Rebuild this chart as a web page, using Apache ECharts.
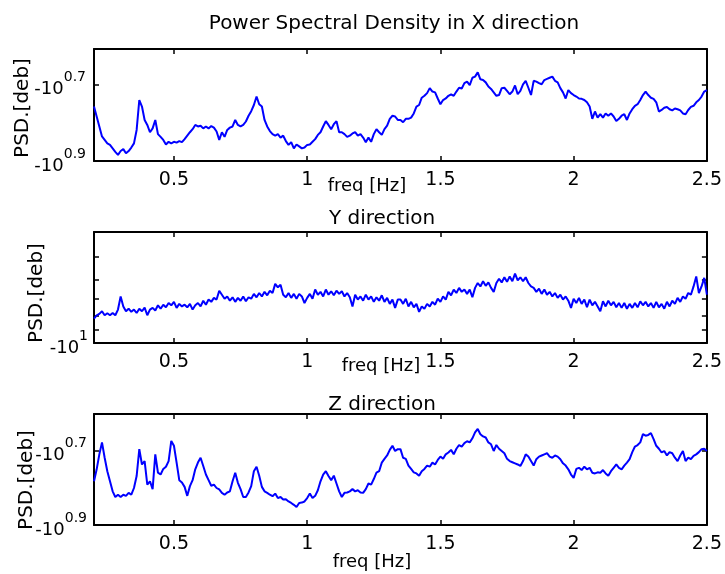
<!DOCTYPE html>
<html>
<head>
<meta charset="utf-8">
<script src="https://cdn.jsdelivr.net/npm/echarts@6/dist/echarts.min.js"></script>
<style>
  html, body { margin: 0; padding: 0; background: #fff; }
  #chart { width: 725px; height: 574px; }
</style>
</head>
<body>
<div id="chart"></div>
<script>
// Frequency grid of the spectra: 0.20 .. 2.50 Hz, 0.01 Hz spacing
const freqStart = 0.2;
const freqStep = 0.01;
const freqCount = 231;

// log10(|PSD|) for each direction (PSD values are negative: PSD = -10^v)
const logPsdX = [
  0.758,0.784,0.810,0.836,0.845,0.854,0.858,0.867,0.876,0.884,
  0.874,0.869,0.880,0.874,0.865,0.854,0.819,0.741,0.758,0.793,
  0.806,0.825,0.815,0.793,0.830,0.837,0.845,0.857,0.850,0.854,
  0.850,0.852,0.848,0.851,0.843,0.834,0.825,0.817,0.806,0.810,
  0.808,0.815,0.810,0.815,0.809,0.813,0.823,0.845,0.825,0.837,
  0.819,0.813,0.810,0.793,0.806,0.810,0.806,0.797,0.782,0.770,
  0.754,0.732,0.752,0.758,0.793,0.810,0.822,0.830,0.834,0.830,
  0.839,0.834,0.848,0.858,0.851,0.867,0.857,0.862,0.867,0.865,
  0.858,0.857,0.850,0.843,0.832,0.825,0.810,0.796,0.806,0.817,
  0.804,0.796,0.825,0.825,0.830,0.837,0.834,0.828,0.825,0.834,
  0.830,0.839,0.851,0.839,0.850,0.830,0.817,0.825,0.832,0.817,
  0.808,0.790,0.782,0.784,0.793,0.793,0.799,0.790,0.790,0.787,
  0.776,0.758,0.754,0.735,0.730,0.723,0.710,0.719,0.721,0.737,
  0.752,0.741,0.737,0.730,0.726,0.730,0.719,0.709,0.711,0.697,
  0.693,0.702,0.683,0.680,0.669,0.687,0.689,0.695,0.706,0.712,
  0.721,0.730,0.728,0.710,0.709,0.717,0.726,0.719,0.703,0.726,
  0.717,0.700,0.691,0.709,0.728,0.691,0.693,0.697,0.700,0.689,
  0.686,0.683,0.680,0.691,0.695,0.710,0.721,0.737,0.715,0.723,
  0.728,0.732,0.737,0.738,0.741,0.747,0.758,0.790,0.771,0.787,
  0.778,0.787,0.776,0.782,0.776,0.784,0.796,0.790,0.782,0.778,
  0.793,0.776,0.765,0.756,0.752,0.741,0.728,0.719,0.728,0.735,
  0.738,0.747,0.771,0.767,0.761,0.759,0.765,0.768,0.763,0.765,
  0.768,0.776,0.778,0.767,0.759,0.756,0.747,0.741,0.732,0.719,0.715
];

const logPsdY = [
  0.915,0.903,0.898,0.889,0.903,0.896,0.903,0.895,0.903,0.883,
  0.837,0.872,0.889,0.880,0.891,0.883,0.895,0.880,0.889,0.876,
  0.903,0.883,0.877,0.886,0.868,0.880,0.866,0.875,0.860,0.868,
  0.856,0.877,0.863,0.872,0.866,0.875,0.863,0.883,0.868,0.860,
  0.872,0.852,0.866,0.848,0.856,0.842,0.848,0.817,0.831,0.845,
  0.837,0.852,0.840,0.856,0.842,0.852,0.837,0.854,0.840,0.845,
  0.828,0.840,0.825,0.837,0.821,0.833,0.817,0.825,0.793,0.805,
  0.796,0.831,0.840,0.825,0.842,0.828,0.845,0.828,0.837,0.860,
  0.842,0.828,0.845,0.813,0.831,0.821,0.837,0.813,0.831,0.819,
  0.833,0.817,0.828,0.819,0.837,0.825,0.840,0.872,0.831,0.848,
  0.837,0.852,0.831,0.848,0.837,0.856,0.840,0.852,0.833,0.856,
  0.842,0.863,0.848,0.877,0.848,0.848,0.863,0.845,0.872,0.856,
  0.875,0.863,0.891,0.872,0.880,0.863,0.872,0.856,0.866,0.845,
  0.856,0.837,0.848,0.821,0.833,0.813,0.825,0.807,0.821,0.813,
  0.828,0.813,0.840,0.807,0.790,0.802,0.784,0.800,0.788,0.807,
  0.821,0.790,0.775,0.788,0.770,0.786,0.767,0.784,0.757,0.781,
  0.770,0.784,0.770,0.790,0.802,0.807,0.821,0.810,0.828,0.813,
  0.831,0.821,0.837,0.825,0.842,0.831,0.848,0.837,0.852,0.877,
  0.845,0.860,0.842,0.863,0.848,0.875,0.848,0.868,0.856,0.872,
  0.889,0.854,0.872,0.852,0.868,0.856,0.875,0.860,0.877,0.860,
  0.880,0.863,0.877,0.860,0.875,0.854,0.868,0.856,0.872,0.860,
  0.877,0.856,0.875,0.863,0.880,0.856,0.872,0.852,0.863,0.842,
  0.856,0.837,0.845,0.825,0.831,0.802,0.767,0.825,0.802,0.772,0.831
];

const logPsdZ = [
  0.783,0.751,0.711,0.679,0.720,0.756,0.783,0.810,0.825,0.819,
  0.825,0.819,0.822,0.814,0.819,0.801,0.769,0.697,0.738,0.729,
  0.792,0.783,0.804,0.711,0.760,0.765,0.750,0.744,0.729,0.675,
  0.688,0.733,0.780,0.786,0.798,0.822,0.796,0.780,0.751,0.733,
  0.720,0.742,0.765,0.780,0.795,0.792,0.801,0.805,0.814,0.819,
  0.813,0.810,0.783,0.760,0.787,0.804,0.825,0.825,0.813,0.796,
  0.756,0.744,0.768,0.798,0.810,0.814,0.819,0.823,0.816,0.828,
  0.825,0.832,0.831,0.837,0.841,0.846,0.852,0.841,0.840,0.837,
  0.828,0.816,0.828,0.822,0.807,0.783,0.765,0.756,0.769,0.780,
  0.768,0.789,0.810,0.825,0.814,0.813,0.810,0.804,0.810,0.807,
  0.813,0.814,0.804,0.789,0.792,0.777,0.760,0.756,0.733,0.723,
  0.714,0.699,0.688,0.702,0.697,0.697,0.720,0.723,0.741,0.750,
  0.759,0.762,0.768,0.756,0.750,0.741,0.744,0.733,0.738,0.726,
  0.717,0.723,0.711,0.706,0.699,0.711,0.696,0.686,0.690,0.681,
  0.676,0.679,0.668,0.652,0.643,0.657,0.663,0.666,0.679,0.684,
  0.702,0.686,0.696,0.702,0.708,0.723,0.729,0.732,0.735,0.738,
  0.742,0.729,0.711,0.717,0.729,0.741,0.724,0.717,0.714,0.711,
  0.708,0.717,0.720,0.714,0.717,0.724,0.735,0.741,0.751,0.765,
  0.774,0.750,0.747,0.753,0.744,0.751,0.747,0.760,0.762,0.759,
  0.760,0.753,0.762,0.768,0.756,0.747,0.738,0.747,0.751,0.741,
  0.733,0.724,0.705,0.690,0.686,0.679,0.657,0.661,0.659,0.654,
  0.670,0.688,0.696,0.706,0.702,0.714,0.705,0.708,0.720,0.729,
  0.714,0.702,0.729,0.720,0.724,0.715,0.711,0.705,0.697,0.696,0.702
];

// Tick values
const freqTicks = [0.5, 1, 1.5, 2, 2.5];
const expTicksXZ = [0.7, 0.9];              // labelled as -10^0.7, -10^0.9
const magMinorTicksY = [5, 6, 7, 8, 9, 10]; // |PSD| minor ticks of the Y panel
const expLabelsY = [1];                     // labelled as -10^1

// Exponent ranges shown on each panel (top .. bottom)
const expRangeX = [0.608, 0.9];
const expRangeY = [0.6115, 1.0];
const expRangeZ = [0.603, 0.9];

const FONT = 'DejaVu Sans';
const freq = Array.from({ length: freqCount }, (_, i) => +(freqStart + i * freqStep).toFixed(2));
const pairs = arr => freq.map((f, i) => [f, arr[i]]);

const panels = [
  { top: 49,  height: 112, range: expRangeX, ticks: expTicksXZ, labels: expTicksXZ, values: logPsdX, labelMargin: 8 },
  { top: 232, height: 111, range: expRangeY, ticks: magMinorTicksY.map(m => Math.log10(m)), labels: expLabelsY, values: logPsdY, labelMargin: 6 },
  { top: 414, height: 111, range: expRangeZ, ticks: expTicksXZ, labels: expTicksXZ, values: logPsdZ, labelMargin: 7 }
];

const frameLine = { show: true, onZero: false, lineStyle: { color: '#000', width: 2 } };
const tickStyle = { color: '#000', width: 1.5 };

const grid = [], xAxis = [], yAxis = [], series = [];
panels.forEach((p, g) => {
  grid.push({ left: 94, top: p.top, width: 613, height: p.height, show: false });
  // bottom x axis with labels, top x axis as frame with ticks only
  ['bottom', 'top'].forEach(pos => {
    xAxis.push({
      gridIndex: g, type: 'value', min: 0.2, max: 2.5, position: pos,
      axisLine: frameLine,
      axisTick: { show: true, inside: true, length: 5, customValues: freqTicks, lineStyle: tickStyle },
      axisLabel: {
        show: pos === 'bottom', customValues: freqTicks, margin: 10,
        fontSize: 19, fontFamily: FONT, color: '#000',
        formatter: v => String(v)
      },
      splitLine: { show: false }
    });
  });
  ['left', 'right'].forEach(pos => {
    yAxis.push({
      gridIndex: g, type: 'value', inverse: true, min: p.range[0], max: p.range[1], position: pos,
      axisLine: frameLine,
      axisTick: { show: true, inside: true, length: 5, customValues: p.ticks, lineStyle: tickStyle },
      axisLabel: {
        show: pos === 'left', customValues: p.labels, margin: p.labelMargin,
        formatter: v => '{m|-10}{s|' + v + '}',
        rich: {
          m: { fontSize: 18, fontFamily: FONT, color: '#000', padding: [10, 0, 0, 0], verticalAlign: 'bottom' },
          s: { fontSize: 14, fontFamily: FONT, color: '#000', verticalAlign: 'top' }
        }
      },
      splitLine: { show: false }
    });
  });
  series.push({
    type: 'line', xAxisIndex: 2 * g, yAxisIndex: 2 * g,
    data: pairs(p.values), showSymbol: false, sampling: 'none',
    lineStyle: { color: '#0000ff', width: 2 }, itemStyle: { color: '#0000ff' }
  });
});

const textEl = (text, x, y, size, rotation) => ({
  type: 'text', x, y, rotation: rotation || 0,
  style: { text, fontSize: size, fontFamily: FONT, fill: '#000', align: 'center', verticalAlign: 'middle' }
});

const graphic = [
  textEl('Power Spectral Density in X direction', 394, 24, 20),
  textEl('Y direction', 382, 219, 20),
  textEl('Z direction', 382, 405, 20),
  textEl('freq [Hz]', 367, 186, 18),
  textEl('freq [Hz]', 381, 366, 18),
  textEl('freq [Hz]', 372, 562, 18),
  textEl('PSD.[deb]', 23, 108, 20, Math.PI / 2),
  textEl('PSD.[deb]', 37, 293, 20, Math.PI / 2),
  textEl('PSD.[deb]', 27, 480, 20, Math.PI / 2)
];

const chart = echarts.init(document.getElementById('chart'), null, { renderer: 'canvas' });
chart.setOption({
  animation: false,
  backgroundColor: '#fff',
  grid, xAxis, yAxis, series, graphic
});
</script>
</body>
</html>
